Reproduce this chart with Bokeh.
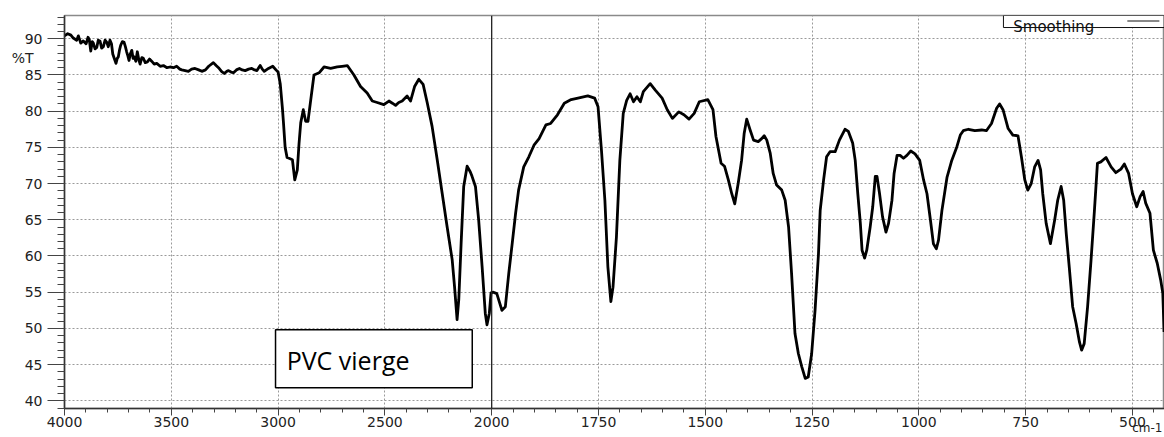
from bokeh.plotting import figure
from bokeh.models import (Range1d, FixedTicker, Span, BoxAnnotation, Label, Arrow,
                          ColumnDataSource, LinearAxis, CustomJSTickFormatter)
from bokeh.embed import file_html
from bokeh.resources import INLINE

# Spectrum, high-wavenumber part (4000 -> 2000 cm-1)
wn_high = [4000, 3985, 3970, 3959, 3943, 3935, 3924, 3912, 3899, 3890, 3884, 3877, 3870, 3865,
           3857, 3849, 3842, 3834, 3826, 3818, 3810, 3802, 3795, 3787, 3780, 3774, 3766, 3759,
           3753, 3748, 3742, 3737, 3729, 3721, 3715, 3709, 3703, 3698, 3692, 3685, 3679, 3674,
           3666, 3659, 3652, 3646, 3638, 3631, 3622, 3612, 3602, 3592, 3580, 3568, 3552, 3537,
           3520, 3506, 3490, 3475, 3460, 3451, 3435, 3420, 3405, 3389, 3372, 3357, 3340, 3325,
           3303, 3290, 3279, 3265, 3252, 3240, 3232, 3220, 3209, 3195, 3181, 3168, 3154, 3138,
           3123, 3110, 3099, 3084, 3074, 3065, 3055, 3045, 3025, 3010, 3000, 2990, 2980, 2975,
           2967, 2958, 2949, 2933, 2922, 2910, 2902, 2894, 2882, 2871, 2860, 2847, 2832, 2808,
           2785, 2754, 2723, 2700, 2676, 2645, 2614, 2583, 2559, 2536, 2505, 2481, 2465, 2450,
           2435, 2419, 2396, 2380, 2361, 2341, 2321, 2302, 2279, 2255, 2232, 2209, 2185, 2174,
           2162, 2154, 2143, 2131, 2115, 2100, 2092, 2076, 2061, 2045, 2030, 2022, 2011, 2003]
t_high = [90.4, 90.7, 90.5, 90.1, 89.8, 90.4, 89.4, 89.7, 89.3, 90.2, 89.9, 88.3, 89.6, 89.4,
          88.6, 88.8, 89.8, 89.7, 88.7, 88.9, 89.8, 89.5, 88.9, 89.8, 89.3, 87.9, 87.2, 86.6,
          87.3, 87.5, 88.5, 89.1, 89.6, 89.5, 88.9, 88.2, 87.6, 87.0, 87.9, 88.4, 87.3, 87.5,
          86.9, 88.2, 87.1, 86.5, 87.4, 87.3, 86.7, 86.8, 87.2, 86.9, 86.5, 86.6, 86.2, 86.3,
          86.0, 86.1, 86.0, 86.2, 85.8, 85.7, 85.6, 85.5, 85.8, 85.9, 85.7, 85.5, 85.7, 86.2,
          86.7, 86.3, 86.0, 85.5, 85.2, 85.5, 85.6, 85.4, 85.3, 85.7, 85.9, 85.7, 85.6, 85.8,
          85.9, 85.7, 85.6, 86.3, 85.8, 85.5, 85.7, 85.9, 86.2, 85.7, 85.4, 83.8, 80.5, 78.5,
          75.0, 73.6, 73.5, 73.3, 70.5, 71.9, 75.5, 78.4, 80.2, 78.6, 78.6, 81.6, 85.0, 85.3,
          86.1, 85.9, 86.1, 86.2, 86.3, 85.0, 83.4, 82.5, 81.4, 81.2, 80.9, 81.4, 81.1, 80.8,
          81.2, 81.4, 82.1, 81.4, 83.4, 84.4, 83.7, 81.2, 77.9, 73.3, 68.7, 64.1, 59.5, 55.8,
          51.2, 54.0, 61.8, 69.6, 72.4, 71.6, 71.0, 69.6, 65.0, 58.6, 52.1, 50.5, 52.1, 54.9]

# Spectrum, low-wavenumber part (2000 -> 425 cm-1)
wn_low = [1996, 1988, 1976, 1968, 1960, 1952, 1944, 1937, 1925, 1913, 1901, 1889, 1873, 1862,
          1846, 1830, 1814, 1798, 1775, 1759, 1751, 1743, 1735, 1728, 1721, 1716, 1708, 1700,
          1692, 1684, 1676, 1668, 1660, 1652, 1645, 1629, 1617, 1601, 1589, 1577, 1562, 1550,
          1538, 1526, 1514, 1494, 1482, 1475, 1463, 1455, 1446, 1438, 1431, 1423, 1415, 1409,
          1403, 1395, 1387, 1376, 1368, 1362, 1356, 1348, 1341, 1333, 1321, 1313, 1305, 1298,
          1290, 1282, 1274, 1266, 1259, 1251, 1243, 1235, 1231, 1223, 1216, 1208, 1196, 1186,
          1173, 1165, 1155, 1149, 1143, 1137, 1133, 1127, 1122, 1114, 1108, 1102, 1098, 1092,
          1085, 1077, 1071, 1063, 1058, 1051, 1044, 1036, 1028, 1019, 1009, 998, 989, 981,
          973, 966, 959, 954, 946, 934, 923, 911, 903, 896, 884, 869, 853, 842,
          830, 818, 811, 803, 791, 780, 768, 760, 752, 745, 737, 729, 721, 715,
          710, 702, 692, 682, 675, 667, 661, 655, 648, 640, 632, 624, 619, 613,
          605, 597, 589, 582, 574, 562, 550, 539, 527, 519, 509, 500, 490, 482,
          475, 469, 459, 451, 442, 434, 429, 426]
t_low = [55.0, 54.8, 52.5, 53.0, 57.6, 61.7, 65.9, 69.1, 72.3, 73.7, 75.3, 76.2, 78.1, 78.3,
         79.5, 81.1, 81.6, 81.8, 82.1, 81.8, 80.6, 74.6, 67.7, 58.5, 53.7, 55.7, 62.6, 73.2,
         79.7, 81.5, 82.4, 81.3, 82.0, 81.3, 82.7, 83.8, 82.9, 81.8, 80.2, 79.0, 79.9, 79.5,
         78.9, 79.7, 81.3, 81.6, 80.2, 76.5, 72.8, 72.4, 70.5, 68.6, 67.2, 70.0, 73.2, 76.9,
         78.9, 77.4, 76.0, 75.8, 76.2, 76.6, 76.0, 74.2, 71.4, 69.8, 69.1, 67.7, 64.0, 57.6,
         49.3, 46.5, 44.7, 43.1, 43.3, 46.5, 52.5, 60.3, 66.3, 70.5, 73.7, 74.4, 74.4, 76.0,
         77.5, 77.2, 75.6, 73.2, 68.6, 64.5, 60.8, 59.7, 60.8, 64.0, 66.8, 71.0, 71.0, 68.6,
         65.4, 63.3, 64.5, 67.7, 71.4, 73.9, 73.9, 73.5, 73.9, 74.5, 74.1, 73.2, 70.5, 68.6,
         65.0, 61.7, 61.0, 62.2, 66.3, 70.9, 73.2, 75.1, 76.7, 77.3, 77.5, 77.3, 77.4, 77.3,
         78.3, 80.4, 81.0, 80.2, 77.6, 76.7, 76.6, 73.7, 70.5, 69.1, 70.0, 72.3, 73.2, 71.9,
         68.6, 64.5, 61.7, 65.0, 67.7, 69.6, 67.7, 63.1, 58.5, 53.0, 50.7, 48.1, 47.0, 47.9,
         53.0, 59.4, 66.3, 72.8, 73.0, 73.6, 72.3, 71.5, 72.0, 72.7, 71.4, 68.6, 66.8, 68.2,
         68.9, 67.3, 65.9, 60.8, 59.0, 56.7, 54.9, 49.5]

x_tick_labels = [4000, 3500, 3000, 2500, 2000, 1750, 1500, 1250, 1000, 750, 500]
y_tick_labels = [40, 45, 50, 55, 60, 65, 70, 75, 80, 85, 90]


def to_axis(w):
    """Broken wavenumber axis: 4000-2000 at 500 per unit, below 2000 at 250 per unit."""
    if w >= 2000:
        return (4000.0 - w) / 500.0
    return 4.0 + (2000.0 - w) / 250.0


wn_all = wn_high + wn_low
t_all = t_high + t_low
src = ColumnDataSource(dict(u=[to_axis(w) for w in wn_all], t=t_all))

p = figure(width=1164, height=437, output_backend="svg", toolbar_location=None,
           x_range=Range1d(0, to_axis(425)), y_range=Range1d(38.94, 93.21),
           min_border_left=64, min_border_right=0, min_border_top=15, min_border_bottom=28)
p.background_fill_color = "white"
p.border_fill_color = "white"
p.outline_line_color = "#8a8a8a"
p.outline_line_width = 1.5

p.line("u", "t", source=src, line_color="black", line_width=2.8, line_join="round")

# axes
major_u = [to_axis(w) for w in x_tick_labels]
minor_u = [round(0.2 * i, 6) for i in range(0, 52)]
p.xaxis.ticker = FixedTicker(ticks=major_u, minor_ticks=minor_u)
p.xaxis.major_label_overrides = {int(round(u)): str(w) for u, w in zip(major_u, x_tick_labels)}
p.yaxis.ticker = FixedTicker(ticks=y_tick_labels, minor_ticks=list(range(39, 94)))

for ax in (p.xaxis[0], p.yaxis[0]):
    ax.axis_line_color = "#333333"
    ax.axis_line_width = 1.5
    ax.major_tick_line_color = "#444444"
    ax.minor_tick_line_color = "#444444"
    ax.major_tick_in = 0
    ax.minor_tick_in = 0
    ax.major_label_text_font = "DejaVu Sans"
    ax.major_label_text_font_size = "14px"
    ax.major_label_text_color = "#222222"

p.yaxis.major_tick_out = 17
p.yaxis.minor_tick_out = 7
p.yaxis.major_label_standoff = 5
p.xaxis.major_tick_out = 7
p.xaxis.minor_tick_out = 4
p.xaxis.major_label_standoff = 1

# x-axis unit caption at the right end, below the tick labels
# (trailing no-break spaces keep the centred caption inside the canvas)
p.xaxis.axis_label = "cm-1" + "\u00a0" * 9
p.xaxis.axis_label_align = "end"
p.xaxis.axis_label_standoff = -9
p.xaxis.axis_label_text_font = "DejaVu Sans"
p.xaxis.axis_label_text_font_size = "12px"
p.xaxis.axis_label_text_font_style = "normal"
p.xaxis.axis_label_text_color = "#222222"

# "%T" caption on the left, next to the 85-90 band (an extra label-only axis)
pct_axis = LinearAxis(ticker=FixedTicker(ticks=[87.4], minor_ticks=[]),
                      formatter=CustomJSTickFormatter(code="return '%T';"),
                      axis_line_color=None, major_tick_line_color=None,
                      minor_tick_line_color=None, major_tick_out=0, major_tick_in=0,
                      major_label_standoff=-12, major_label_text_font="DejaVu Sans",
                      major_label_text_font_size="14px", major_label_text_color="#222222")
p.add_layout(pct_axis, "left")

p.grid.grid_line_color = "#9a9a9a"
p.grid.grid_line_dash = "2 2"
p.grid.grid_line_width = 1

# break line at 2000 cm-1
p.add_layout(Span(location=to_axis(2000), dimension="height", line_color="#222222", line_width=1.3))

# sample label box
p.add_layout(BoxAnnotation(left=to_axis(3012), right=to_axis(2091), bottom=41.8, top=49.8,
                           fill_color="white", fill_alpha=1.0, line_color="black",
                           line_alpha=1.0, line_width=1.5))
p.add_layout(Label(x=to_axis(2960), y=45.7, text="PVC vierge", text_font="Open Sans",
                   text_font_size="25px", text_color="black", text_baseline="middle"))

# legend-like box "Smoothing ——"
p.add_layout(BoxAnnotation(left=to_axis(802), right=to_axis(426), bottom=91.55, top=93.21,
                           fill_color="white", fill_alpha=1.0, line_color="#111111",
                           line_alpha=1.0, line_width=1))
p.add_layout(Label(x=to_axis(779), y=91.69, text="Smoothing", text_font="DejaVu Sans",
                   text_font_size="15px", text_color="#111111", text_baseline="alphabetic"))
p.add_layout(Arrow(start=None, end=None, x_start=to_axis(512), x_end=to_axis(437),
                   y_start=92.45, y_end=92.45, line_color="#111111", line_width=1))

open("out.html", "w").write(file_html(p, INLINE))
